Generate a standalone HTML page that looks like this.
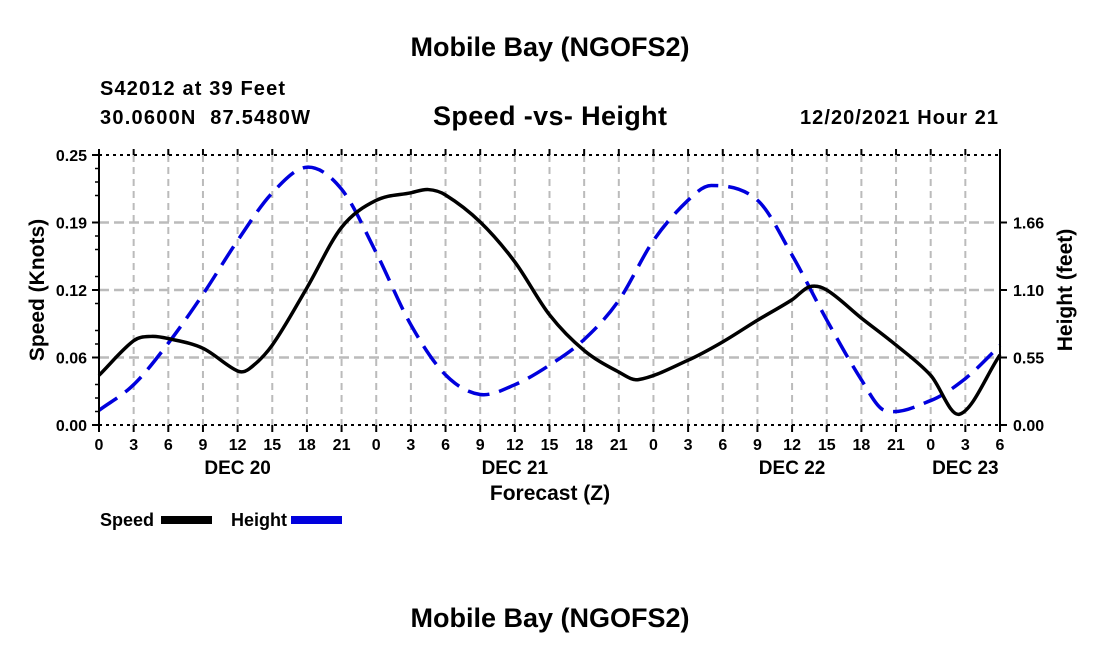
<!DOCTYPE html>
<html><head><meta charset="utf-8"><style>
body{margin:0;background:#fff;width:1100px;height:650px;overflow:hidden}
svg{font-family:"Liberation Sans",Arial,sans-serif;font-weight:bold}
</style></head><body>
<svg id="c" width="1100" height="650">
<text x="550" y="56" font-size="27" text-anchor="middle">Mobile Bay (NGOFS2)</text>
<text x="100" y="95" font-size="20" textLength="185">S42012 at 39 Feet</text>
<text x="100" y="124" font-size="20" textLength="210" xml:space="preserve">30.0600N  87.5480W</text>
<text x="550" y="125" font-size="27" text-anchor="middle" textLength="234">Speed -vs- Height</text>
<text x="800" y="124" font-size="20" textLength="198">12/20/2021 Hour 21</text>
<text x="550" y="500" font-size="21" text-anchor="middle">Forecast (Z)</text>
<text transform="translate(44,290) rotate(-90)" font-size="21" text-anchor="middle">Speed (Knots)</text>
<text transform="translate(1072,290) rotate(-90)" font-size="21" text-anchor="middle">Height (feet)</text>
<g>
<text x="100" y="526" font-size="18">Speed</text>
<rect x="161" y="516" width="51" height="8" fill="#000"/>
<text x="231" y="526" font-size="18">Height</text>
<rect x="291" y="516" width="51" height="8" fill="#0000dd"/>
</g>
<text x="550" y="627" font-size="27" text-anchor="middle">Mobile Bay (NGOFS2)</text>
<g id="grid"></g><g id="series"></g><g id="axes"></g>
</svg>
<script>
const xTickHours=[0,3,6,9,12,15,18,21,24,27,30,33,36,39,42,45,48,51,54,57,60,63,66,69,72,75,78];
const dayLabels=["DEC 20","DEC 21","DEC 22","DEC 23"];
const dayHours=[12,36,60,75];
const leftTicks=[0,0.0625,0.125,0.1875,0.25];
const leftTickLabels=["0.00","0.06","0.12","0.19","0.25"];
const rightTicks=[0,0.5525,1.105,1.6575];
const rightTickLabels=["0.00","0.55","1.10","1.66"];
const speedHours=[0,3,4.5,6,9,12,13,15,18,21,24,27,28.5,30,33,36,39,42,45,46.7,51,54,57,60,61.5,63,66,69,72,74.5,78];
const speedValues=[0.046,0.078,0.082,0.080,0.071,0.050,0.052,0.074,0.127,0.183,0.208,0.215,0.218,0.213,0.188,0.151,0.102,0.069,0.049,0.042,0.060,0.077,0.097,0.116,0.128,0.125,0.099,0.074,0.046,0.010,0.065];
const heightHours=[0,3,6,9,12,15,18,21,24,27,30,33,36,39,42,45,48,51,53,57,60,63,66,68,72,75,78];
const heightValues=[0.12,0.33,0.67,1.07,1.51,1.90,2.11,1.93,1.41,0.82,0.41,0.25,0.33,0.49,0.70,1.02,1.51,1.84,1.96,1.84,1.39,0.86,0.37,0.12,0.20,0.38,0.65];
const X0=99,X1=1000,Y0=425,Y1=155,HMAX=78,SMAX=0.25,FMAX=2.21;
const NS="http://www.w3.org/2000/svg";
const xs=h=>X0+h/HMAX*(X1-X0);
const ys=v=>Y0-v/SMAX*(Y0-Y1);
const yf=v=>Y0-v/FMAX*(Y0-Y1);
function mk(t,a,p){const e=document.createElementNS(NS,t);for(const k in a)e.setAttribute(k,a[k]);p.appendChild(e);return e;}
const grid=document.getElementById('grid'),axes=document.getElementById('axes'),ser=document.getElementById('series');
xTickHours.forEach((h,i)=>{
 const x=xs(h);
 if(i>0&&i<xTickHours.length-1){const l=mk('line',{x1:x,x2:x,y1:Y1,y2:Y0,stroke:'#bbb','stroke-width':2,'stroke-dasharray':'7,5'},grid);
 
 }
 const t=mk('line',{x1:x,x2:x,y1:Y0,y2:Y0+7,stroke:'#000','stroke-width':2},axes);
 
 
 const t2=mk('line',{x1:x,x2:x,y1:Y1,y2:Y1-6,stroke:'#000','stroke-width':2},axes);
 
 
 const lb=mk('text',{x:x,y:Y0+25,'font-size':16,'text-anchor':'middle'},axes);
 lb.textContent=String(h%24);
 
 
});
dayLabels.forEach((d,i)=>{const t=mk('text',{x:xs(dayHours[i]),y:Y0+49,'font-size':19,'text-anchor':'middle'},axes);
 t.textContent=d;
 
 });
leftTicks.forEach((v,i)=>{const y=ys(v);
 if(i>0&&i<leftTicks.length-1){const g=mk('line',{x1:X0,x2:X1,y1:y,y2:y,stroke:'#bbb','stroke-width':2.5,'stroke-dasharray':'10,5'},grid);
 
 }
 const t=mk('line',{x1:X0-7,x2:X0,y1:y,y2:y,stroke:'#000','stroke-width':2},axes);
 
 
 const lb=mk('text',{x:X0-12,y:y+6,'font-size':16,'text-anchor':'end'},axes);
 lb.textContent=leftTickLabels[i];
 
 });
for(let k=1;k<20;k++){if(k%4===0)continue;const y=Y0-k*(Y0-Y1)/20;const m=mk('line',{x1:X0-4,x2:X0,y1:y,y2:y,stroke:'#000','stroke-width':1.5},axes);
 
 }
rightTicks.forEach((v,i)=>{const y=yf(v);
 const t=mk('line',{x1:X1,x2:X1+7,y1:y,y2:y,stroke:'#000','stroke-width':2},axes);
 
 
 const lb=mk('text',{x:X1+13,y:y+6,'font-size':16},axes);
 lb.textContent=rightTickLabels[i];
 
 });
[[X0,Y0,X1,Y0,'bottom-axis'],[X0,Y1,X1,Y1,'top-axis']].forEach(a=>{const l=mk('line',{x1:a[0],y1:a[1],x2:a[2],y2:a[3],stroke:'#000','stroke-width':2,'stroke-dasharray':'3,4'},axes);
 
 });
[[X0,'left-axis'],[X1,'right-axis']].forEach(a=>{const l=mk('line',{x1:a[0],y1:Y1,x2:a[0],y2:Y0,stroke:'#000','stroke-width':2},axes);
 
 });
function smooth(p){const n=p.length,m=[];
 for(let i=0;i<n;i++){const a=p[Math.max(0,i-1)],b=p[Math.min(n-1,i+1)];m.push((b[1]-a[1])/(b[0]-a[0]));}
 let d='M'+p[0][0]+','+p[0][1];
 for(let i=0;i<n-1;i++){const dx=(p[i+1][0]-p[i][0])/3;
 d+=' C'+(p[i][0]+dx)+','+(p[i][1]+m[i]*dx)+' '+(p[i+1][0]-dx)+','+(p[i+1][1]-m[i+1]*dx)+' '+p[i+1][0]+','+p[i+1][1];}
 return d;}
const hp=mk('path',{d:smooth(heightHours.map((h,i)=>[xs(h),yf(heightValues[i])])),fill:'none',stroke:'#0000dd','stroke-width':3.5,'stroke-dasharray':'22,10'},ser);


const sp=mk('path',{d:smooth(speedHours.map((h,i)=>[xs(h),ys(speedValues[i])])),fill:'none',stroke:'#000','stroke-width':3.5},ser);


</script>
</body></html>
